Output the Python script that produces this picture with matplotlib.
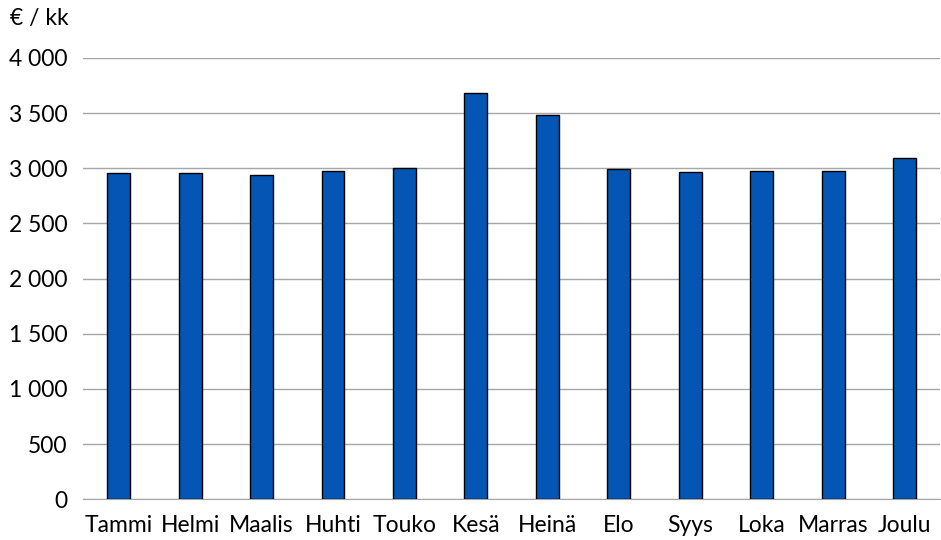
import numpy as np
import matplotlib.pyplot as plt
from matplotlib.ticker import FuncFormatter

months = ['Tammi', 'Helmi', 'Maalis', 'Huhti', 'Touko', 'Kesä', 'Heinä',
          'Elo', 'Syys', 'Loka', 'Marras', 'Joulu']
values = [2958, 2955, 2935, 2980, 3007, 3687, 3481, 2993, 2967, 2976, 2976, 3098]
yticks = [0, 500, 1000, 1500, 2000, 2500, 3000, 3500, 4000]

plt.rcParams['font.family'] = ['Lato', 'DejaVu Sans']

fig = plt.figure(figsize=(9.41, 5.4), dpi=100)
ax = fig.add_axes([0.0882, 0.0754, 0.911, 0.8172])

x = np.arange(len(months))
ax.bar(x, values, width=0.32, color='#0556B4', edgecolor='black', linewidth=1.0, zorder=3)

ax.set_xlim(-0.5, len(months) - 0.5)
ax.set_ylim(0, 4000)
ax.set_yticks(yticks)
ax.yaxis.set_major_formatter(FuncFormatter(lambda v, p: '{:,}'.format(int(v)).replace(',', ' ')))
ax.set_xticks(x)
ax.set_xticklabels(months)

ax.grid(axis='y', color='#a6a6a6', linewidth=1.0, zorder=0)
for s in ['top', 'right', 'left']:
    ax.spines[s].set_visible(False)
ax.spines['bottom'].set_color('#a6a6a6')
ax.tick_params(axis='both', length=0, labelsize=16.5, colors='black')
ax.tick_params(axis='y', pad=11)
ax.tick_params(axis='x', pad=11)

fig.text(0.011, 0.966, '€ / kk', fontsize=16.5, va='center', ha='left')

fig.savefig('out.png', dpi=100)
